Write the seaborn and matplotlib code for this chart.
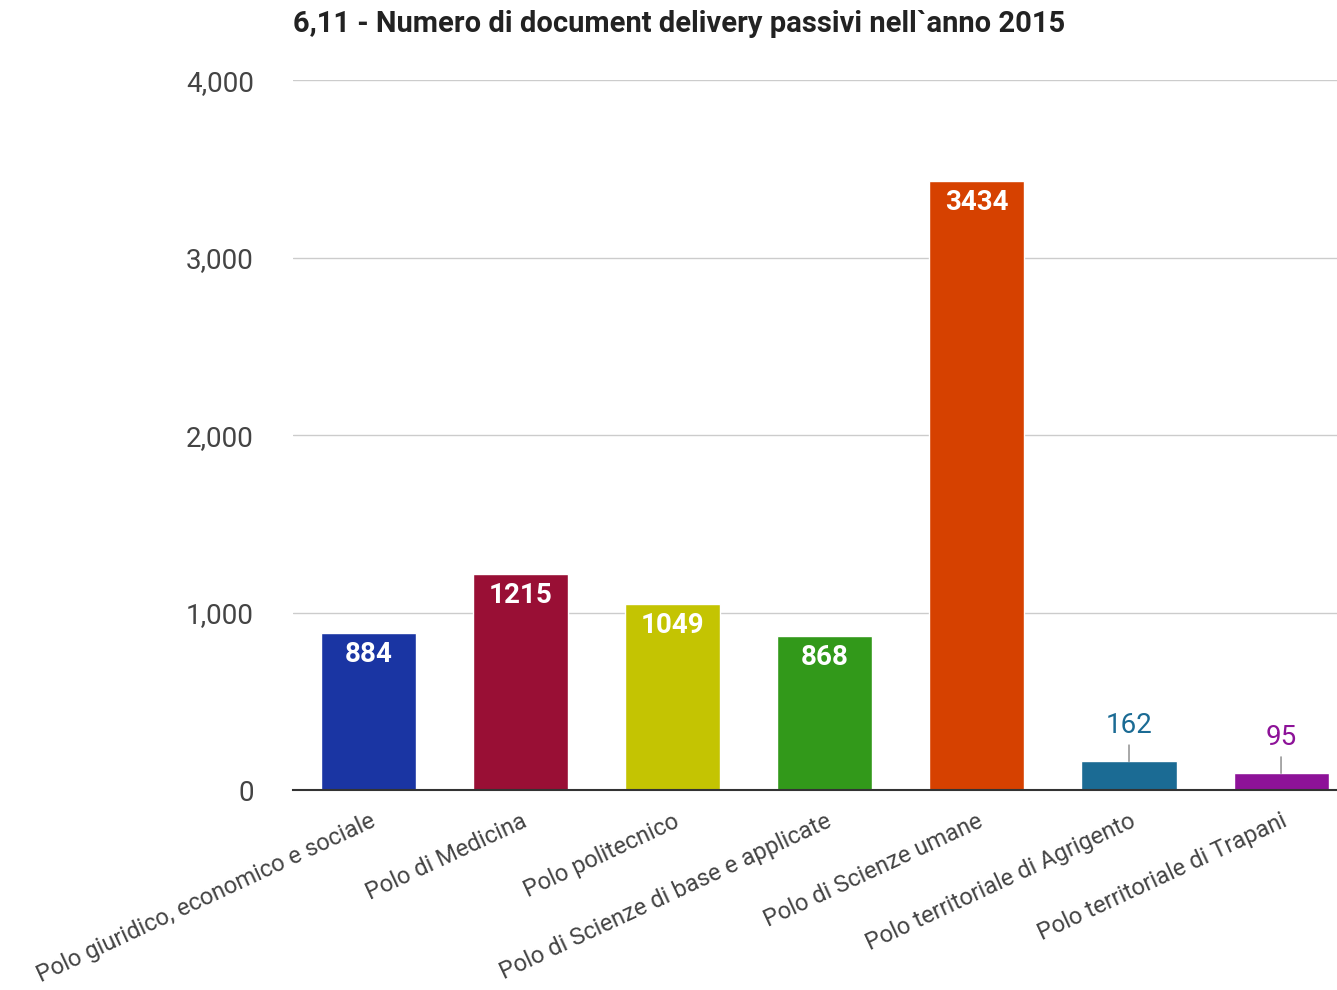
import matplotlib
matplotlib.use("Agg")
import matplotlib.pyplot as plt
import seaborn as sns
import pandas as pd

# dati
categorie = ["Polo giuridico, economico e sociale", "Polo di Medicina", "Polo politecnico",
             "Polo di Scienze di base e applicate", "Polo di Scienze umane",
             "Polo territoriale di Agrigento", "Polo territoriale di Trapani"]
valori = [884, 1215, 1049, 868, 3434, 162, 95]
colori = ["#1a35a3", "#990f35", "#c4c402", "#32991a", "#d64100", "#1b6b94", "#8d1298"]
titolo = "6,11 - Numero di document delivery passivi nell`anno 2015"
yticks = [0, 1000, 2000, 3000, 4000]

df = pd.DataFrame({"cat": categorie, "val": valori})

sns.set_style("white")
plt.rcParams['font.family'] = ['Roboto', 'DejaVu Sans']

fig = plt.figure(figsize=(13.37, 9.9), dpi=100)
ax = fig.add_axes([0.219, 0.202, 0.796, 0.717])

sns.barplot(data=df, x="cat", y="val", hue="cat", palette=colori, width=0.625,
            legend=False, ax=ax, saturation=1)

ax.set_ylim(0, 4000)
ax.set_xlim(-0.5, 6.5)
ax.set_yticks(yticks)
ax.set_yticklabels([f"{v:,}" for v in yticks], fontsize=20, color="#444444")
ax.yaxis.grid(True, color="#cccccc", lw=1)
ax.set_axisbelow(True)
ax.tick_params(axis="y", length=0, pad=28)
ax.tick_params(axis="x", length=0, pad=14)
ax.set_xticks(range(len(categorie)))
ax.set_xticklabels(categorie, rotation=25, ha="right", rotation_mode="anchor",
                   fontsize=17, color="#444444")
ax.set_xlabel("")
ax.set_ylabel("")
for s in ["top", "right", "left"]:
    ax.spines[s].set_visible(False)
ax.spines["bottom"].set_color("#333333")
ax.spines["bottom"].set_linewidth(1.5)

for i, v in enumerate(valori):
    if v > 500:
        ax.text(i, v - 45, str(v), ha="center", va="top", color="white",
                fontsize=20, fontweight="bold")
    else:
        ax.annotate(str(v), xy=(i, v), xytext=(i, v + 125), ha="center", va="bottom",
                    fontsize=20, color=colori[i],
                    arrowprops=dict(arrowstyle="-", color="#999999", lw=1.2,
                                    shrinkA=2, shrinkB=0))

fig.text(293 / 1337, 1 - 24 / 990, titolo, ha="left", va="center", fontsize=21,
         fontweight="bold", color="#222222")

fig.savefig("out.png", dpi=100)
